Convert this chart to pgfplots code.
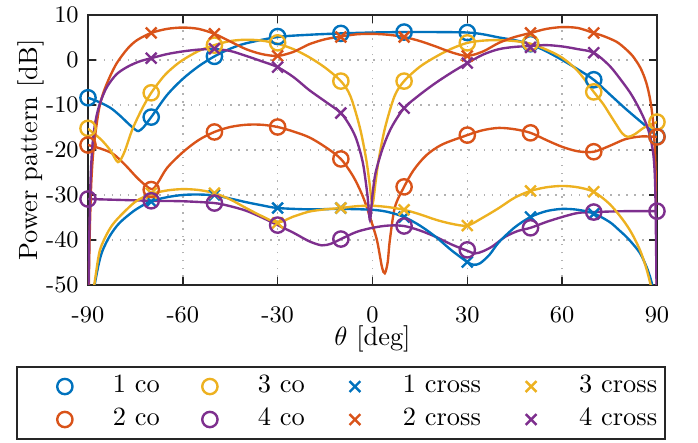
\documentclass[border=0pt]{standalone}
\usepackage{pgfplots}
\pgfplotsset{compat=1.18}
\definecolor{c1}{rgb}{0,0.447,0.741}
\definecolor{c2}{rgb}{0.850,0.325,0.098}
\definecolor{c3}{rgb}{0.929,0.694,0.125}
\definecolor{c4}{rgb}{0.494,0.184,0.556}
\pgfplotsset{lg/.style={legend image code/.code={\path[draw=none,fill=none] (-15.2pt,0pt) rectangle (3.4pt,0pt); \draw[##1] plot coordinates {(0pt,0pt)};}}}
\begin{document}
\begin{tikzpicture}
\begin{axis}[
  at={(0pt,0pt)}, anchor=south west,
  scale only axis, width=215.65pt, height=102.33pt,
  xmin=-90, xmax=90, ymin=-50, ymax=10,
  xtick={-90,-60,-30,0,30,60,90}, xticklabels={-90,-60,-30,0,30,60,90},
  ytick={-50,-40,-30,-20,-10,0,10}, yticklabels={-50,-40,-30,-20,-10,0,10},
  tick align=inside, major tick length=3pt,
  tick style={black!85, line width=0.6pt},
  axis line style={black!85, line width=0.8pt},
  grid=major, major grid style={gray!60, line width=0.6pt, dash pattern=on 0.6pt off 2.4pt},
  ticklabel style={font=\fontsize{9}{10}\selectfont},
  xticklabel style={yshift=-4.8pt},
  xlabel={$\theta$ [deg]}, ylabel={Power pattern [dB]},
  xlabel style={at={(axis description cs:0.5,-0.2)}, anchor=center},
  ylabel style={at={(axis description cs:-0.1,0.5)}, anchor=center},
  legend columns=4,
  legend style={at={(0.4446,-0.3)}, anchor=north, draw=black!85, line width=0.8pt,
    inner xsep=3pt, inner ysep=4pt, font=\fontsize{10}{12}\selectfont,
    nodes={inner sep=0pt, text height=5.8pt, text depth=1pt}, row sep=5.7pt,
    /tikz/every odd column/.style={column sep=14.8pt},
    /tikz/every even column/.style={column sep=3.8pt}},
  every axis plot/.append style={line width=0.9pt},
  mark size=2.9pt,
]
% lines
\addplot[c1, smooth, no markers, forget plot] coordinates {(-90,-8.4) (-87,-9.2) (-83,-10.6) (-80,-12.3) (-77,-14.3) (-75,-15.5) (-74,-15.8) (-72.5,-15) (-70,-12.7) (-65,-7.8) (-60,-4.2) (-55,-1.4) (-50,0.8) (-45,2.5) (-40,3.7) (-30,5.1) (-20,5.6) (-10,5.9) (0,6.1) (10,6.2) (20,6.2) (30,6.1) (35,5.7) (40,5.0) (45,4.4) (50,3.5) (55,1.9) (60,0) (65,-2.1) (70,-4.4) (75,-7.6) (80,-10.8) (85,-13.8) (88,-15.6) (90,-17)};
\addplot[c2, smooth, no markers, forget plot] coordinates {(-90,-18.9) (-86,-19.7) (-82,-20.9) (-78,-23.5) (-74,-26.5) (-70,-28.7) (-68,-27.4) (-65,-24) (-60,-20.5) (-55,-17.8) (-50,-16) (-45,-14.9) (-40,-14.4) (-35,-14.4) (-30,-14.9) (-25,-15.9) (-20,-17.2) (-15,-19.3) (-10,-22) (-6,-26) (-3,-30.4) (-0.8,-34.9) (1.4,-40) (3,-46) (3.9,-47.4) (4.8,-45) (5.5,-40) (7.1,-32.7) (10,-28.2) (13,-24.5) (17,-21.2) (22,-18.8) (30,-16.7) (35,-15.6) (40,-15.1) (45,-15.4) (50,-16.2) (55,-17.8) (60,-19.3) (65,-20.3) (70,-20.4) (75,-19.1) (80,-17.6) (85,-17) (90,-17.1)};
\addplot[c3, smooth, no markers, forget plot] coordinates {(-90,-15.3) (-86,-17.6) (-83,-20) (-80.5,-22.7) (-78.5,-20.5) (-76,-15.5) (-73,-11) (-70,-7.3) (-66,-3.6) (-63,-1.6) (-60,0) (-55,2) (-50,3.3) (-45,4.2) (-40,4.5) (-35,4.3) (-30,3.6) (-25,2.4) (-20,0.6) (-15,-1.7) (-10,-4.7) (-7,-8) (-4,-15) (-2,-22) (-1,-27) (0,-32) (1,-27) (2,-22) (4,-15) (7,-8) (10,-4.7) (15,-1.5) (20,0.7) (25,2.5) (30,3.8) (35,4.3) (40,4.4) (45,4.2) (50,3.6) (55,2.3) (60,0.5) (65,-2.5) (70,-7.1) (73,-9.8) (75,-12) (77,-14.2) (79,-16.3) (80.8,-17.1) (83,-16.5) (86,-15) (90,-13.8)};
\addplot[c4, smooth, no markers, forget plot] coordinates {(-90,-30.9) (-80,-31.1) (-70,-31.3) (-60,-31.4) (-50,-31.8) (-45,-32.5) (-40,-33.5) (-35,-35) (-30,-36.7) (-25,-38.4) (-20,-40.3) (-16,-41.2) (-13,-40.8) (-10,-39.8) (-5,-38.2) (0,-37.3) (5,-36.8) (10,-36.9) (15,-37.9) (20,-39.3) (25,-41) (30,-42.4) (32.4,-43) (35,-42.5) (38,-41.4) (42,-39.3) (46,-38) (50,-37.3) (55,-36) (60,-34.9) (65,-34) (70,-33.8) (80,-33.6) (90,-33.6)};
\addplot[c1, smooth, no markers, forget plot] coordinates {(-88.6,-53) (-87.8,-49.6) (-86.5,-45) (-85.3,-42.2) (-83,-39) (-80,-36.2) (-75,-33.3) (-70,-31.4) (-65,-30.5) (-60,-30) (-55,-29.9) (-50,-30.1) (-45,-30.8) (-40,-31.6) (-35,-32.3) (-30,-32.9) (-20,-33.2) (-10,-33.1) (0,-33.3) (5,-33.8) (10,-34.9) (15,-36.8) (20,-39.3) (25,-42.3) (30,-44.9) (32,-45.5) (34,-45.2) (37,-43.3) (40,-40.5) (45,-37.2) (50,-34.9) (55,-33.6) (60,-33.1) (65,-33.3) (70,-34.1) (75,-36) (78,-37.8) (81,-39.8) (84.6,-42.9) (87,-46.5) (88.5,-50) (89,-53)};
\addplot[c2, smooth, no markers, forget plot] coordinates {(-89.8,-53) (-89.5,-40) (-89,-28) (-88.4,-21) (-87.5,-15.5) (-86.4,-10.5) (-85,-7) (-83,-3.6) (-80.8,-0.6) (-77.5,2.5) (-74.5,4.4) (-70,6.0) (-65,6.9) (-60,7.2) (-55,6.9) (-50,5.8) (-45,4.1) (-40,2.4) (-35,1.3) (-30,0.9) (-25,1.8) (-20,3.5) (-15,4.6) (-10,5.2) (-5,5.7) (0,5.8) (5,5.6) (10,5.1) (15,4.2) (20,3.0) (25,1.7) (30,0.9) (35,1.9) (40,3.8) (45,5.1) (50,6.0) (55,6.9) (60,7.3) (65,7.1) (70,6.0) (73.5,5.2) (77.3,4.0) (80,2.5) (82.4,0.8) (84.8,-1.8) (86.6,-5) (87.9,-9) (88.8,-14) (89.4,-21) (89.8,-33) (90,-53)};
\addplot[c3, smooth, no markers, forget plot] coordinates {(-88.6,-53) (-87.6,-48) (-86.2,-42.2) (-83.5,-38) (-80.8,-35.4) (-75,-31.5) (-70,-29.8) (-65,-29) (-60,-28.7) (-55,-28.9) (-50,-29.6) (-45,-31) (-40,-32.9) (-35,-34.7) (-30,-36.1) (-25,-34.8) (-20,-33.7) (-15,-33.2) (-10,-32.9) (-5,-32.5) (0,-32.4) (5,-32.7) (10,-33.3) (15,-34.3) (20,-35.5) (25,-36.4) (30,-36.8) (35,-35) (40,-32.9) (45,-30.6) (50,-29.1) (55,-28.3) (60,-28) (65,-28.3) (70,-29.3) (75,-32) (79.3,-35.6) (82,-38.5) (84.6,-42.2) (86.5,-46) (88,-50) (88.7,-53)};
\addplot[c4, smooth, no markers, forget plot] coordinates {(-89.9,-53) (-89.6,-40) (-89.2,-27) (-88.6,-19) (-87.6,-13.5) (-86.2,-9.6) (-84,-6) (-81,-3.2) (-77.7,-1.6) (-74,-0.4) (-70,0.4) (-65,1.3) (-60,1.9) (-55,2.3) (-50,2.4) (-45,2.0) (-40,0.9) (-35,-0.3) (-30,-1.6) (-25,-3.8) (-20,-6.7) (-15,-9.2) (-10,-11.8) (-7,-14.8) (-5,-17.8) (-3,-23) (-1.6,-30) (-0.8,-35.6) (0,-30) (1,-25) (3.3,-19.5) (6,-15) (10,-10.7) (15,-7.7) (20,-5.1) (25,-2.8) (30,-0.7) (35,1.2) (40,2.4) (45,2.9) (50,3.1) (55,3.3) (60,3.0) (65,2.4) (70,1.6) (75,-1.3) (79.3,-5.1) (82,-7.8) (84.6,-11.1) (86.6,-14.2) (88,-17.5) (89,-22) (89.5,-30) (89.9,-53)};
% markers
\addplot[c1, only marks, mark=o, lg] coordinates {(-90,-8.4) (-70,-12.7) (-50,0.8) (-30,5.2) (-10,5.9) (10,6.2) (30,6.1) (50,3.6) (70,-4.4) (90,-17)};
\addlegendentry{1 co}
\addplot[c3, only marks, mark=o, lg] coordinates {(-90,-15.2) (-70,-7.3) (-50,3.3) (-30,3.8) (-10,-4.7) (10,-4.7) (30,3.8) (50,3.8) (70,-7.1) (90,-13.8)};
\addlegendentry{3 co}
\addplot[c1, only marks, mark=x, lg] coordinates {(-70,-31.5) (-50,-30) (-30,-32.9) (-10,-32.9) (10,-34.9) (30,-44.9) (50,-34.9) (70,-34.2)};
\addlegendentry{1 cross}
\addplot[c3, only marks, mark=x, lg] coordinates {(-70,-29.6) (-50,-29.6) (-30,-36.2) (-10,-32.9) (10,-33.3) (30,-36.8) (50,-29.1) (70,-29.3)};
\addlegendentry{3 cross}
\addplot[c2, only marks, mark=o, lg] coordinates {(-90,-18.9) (-70,-28.8) (-50,-16) (-30,-14.9) (-10,-22) (10,-28.2) (30,-16.7) (50,-16.2) (70,-20.4) (90,-17.1)};
\addlegendentry{2 co}
\addplot[c4, only marks, mark=o, lg] coordinates {(-90,-30.9) (-70,-31.3) (-50,-31.8) (-30,-36.7) (-10,-39.8) (10,-36.9) (30,-42.2) (50,-37.3) (70,-33.8) (90,-33.6)};
\addlegendentry{4 co}
\addplot[c2, only marks, mark=x, lg] coordinates {(-70,6.0) (-50,5.8) (-30,0.9) (-10,5.1) (10,5.1) (30,0.9) (50,6.0) (70,6.0)};
\addlegendentry{2 cross}
\addplot[c4, only marks, mark=x, lg] coordinates {(-70,0.4) (-50,2.5) (-30,-1.6) (-10,-11.8) (10,-10.7) (30,-0.7) (50,2.8) (70,1.6)};
\addlegendentry{4 cross}
\end{axis}
\pgfresetboundingbox
\path (-33.35pt,-59.88pt) rectangle (231.19pt,108.0pt);
\end{tikzpicture}
\end{document}
